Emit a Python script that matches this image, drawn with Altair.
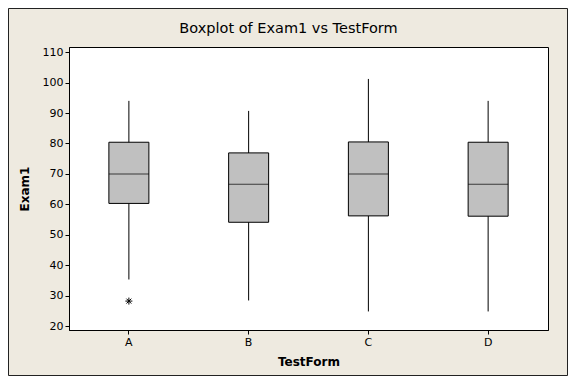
import altair as alt
import pandas as pd

# ---- data ----
forms = ["A", "B", "C", "D"]
q1 = [60.3, 54.1, 56.2, 56.1]
median = [70.0, 66.6, 70.0, 66.6]
q3 = [80.4, 76.9, 80.5, 80.4]
whisker_low = [35.3, 28.4, 24.8, 24.8]
whisker_high = [94.0, 90.7, 101.2, 94.0]
outlier_form = ["A"]
outlier_value = [28.2]
y_ticks = [20, 30, 40, 50, 60, 70, 80, 90, 100, 110]

box = pd.DataFrame({"TestForm": forms, "q1": q1, "median": median, "q3": q3,
                    "lo": whisker_low, "hi": whisker_high})
out = pd.DataFrame({"TestForm": outlier_form, "Exam1": outlier_value})

FONT = "DejaVu Sans"
W, H = 479, 283
PL, PT, PR, PB = 61, 39, 20, 46

xs = alt.X("TestForm:N", title="TestForm",
           scale=alt.Scale(domain=forms, paddingInner=0, paddingOuter=0),
           axis=alt.Axis(labelAngle=0, titlePadding=9))
yscale = alt.Scale(domain=[18.7, 111.7], nice=False, zero=False)
yaxis = alt.Axis(values=y_ticks, titlePadding=11, labelOverlap=False)


def ych(field):
    return alt.Y(field, scale=yscale, axis=yaxis, title="Exam1")


base = alt.Chart(box)

whisk = base.mark_rule(color="black", strokeWidth=1).encode(
    x=xs, y=ych("lo:Q"), y2="hi:Q",
)
bars = base.mark_bar(size=40, fill="#C0C0C0", stroke="black", strokeWidth=1).encode(
    x=xs, y=ych("q1:Q"), y2="q3:Q",
)
med = base.mark_tick(size=40, thickness=1, color="black", orient="horizontal").encode(
    x=xs, y=ych("median:Q"),
)
star_path = "M-1,0L1,0M0,-1L0,1M-0.7,-0.7L0.7,0.7M-0.7,0.7L0.7,-0.7"
outl = alt.Chart(out).mark_point(shape=star_path, size=49, color="black",
                                 strokeWidth=1, filled=False, opacity=1).encode(
    x=xs, y=ych("Exam1:Q"),
)
frame = alt.Chart(pd.DataFrame({"k": [0]})).mark_rect(
    fill=None, stroke="#222222", strokeWidth=1).encode(
    x=alt.value(-PL + 0.5), x2=alt.value(W + PR - 0.5),
    y=alt.value(-PT + 0.5), y2=alt.value(H + PB - 0.5),
)

chart = alt.layer(whisk, bars, med, outl, frame).properties(
    width=W, height=H,
    padding={"left": PL, "top": PT, "right": PR, "bottom": PB},
    autosize=alt.AutoSizeParams(type="none"),
    background="#EEEAE0",
    title=alt.TitleParams("Boxplot of Exam1 vs TestForm", font=FONT, fontSize=14.5,
                          fontWeight="normal", color="black", offset=-28, dx=-20),
).configure_view(
    fill="white", stroke="black", strokeWidth=1
).configure_axis(
    labelFont=FONT, labelFontSize=11, labelColor="black",
    titleFont=FONT, titleFontSize=12, titleFontWeight="bold", titleColor="black",
    tickColor="black", tickSize=4, domainColor="black", labelPadding=2, grid=False,
)

chart.save("out.html", embed_options={"renderer": "svg", "actions": False})
